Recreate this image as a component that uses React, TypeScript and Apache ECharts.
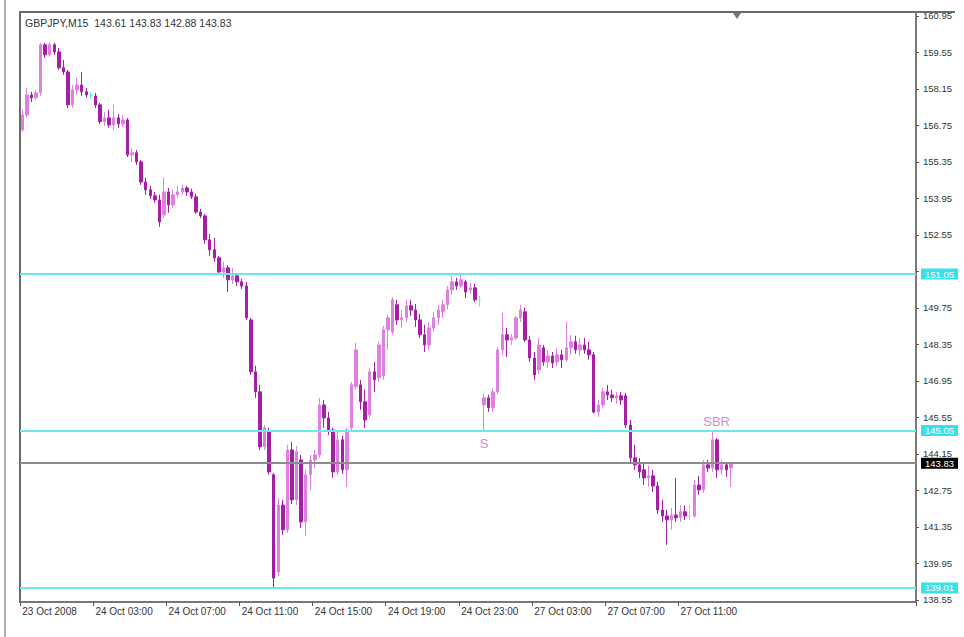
import React, { useEffect, useRef } from 'react';
import * as echarts from 'echarts';

const symbolName = 'GBPJPY,M15';

const opens = [
  156.58, 157.15, 157.92, 157.81, 158.00, 159.84, 159.46, 159.84, 159.57, 158.96,
  158.80, 157.54, 158.11, 158.30, 158.04, 157.92, 157.88, 157.54, 156.89, 157.04,
  156.77, 157.04, 156.81, 156.96, 155.62, 155.70, 155.35, 154.58, 154.28, 154.05,
  153.89, 153.32, 154.20, 153.70, 154.09, 154.20, 154.35, 154.20, 154.01, 153.43,
  153.28, 152.36, 151.98, 151.67, 151.13, 151.29, 150.83, 150.98, 150.75, 150.59,
  149.29, 147.30, 146.53, 144.42, 144.99, 143.35, 139.62, 142.19, 141.24, 144.30,
  142.39, 143.92, 141.54, 143.35, 143.92, 144.11, 146.03, 145.53, 145.07, 143.46,
  144.69, 143.54, 145.15, 146.72, 146.80, 146.15, 145.65, 147.30, 147.07, 147.14,
  148.91, 148.83, 149.87, 149.29, 149.37, 149.83, 149.67, 149.29, 148.72, 148.33,
  148.98, 149.37, 149.60, 149.87, 150.44, 150.75, 150.59, 150.75, 150.44, 150.52,
  150.06, 146.03, 146.30, 145.92, 146.53, 148.14, 148.72, 148.52, 148.60, 149.37,
  149.60, 148.52, 147.83, 147.37, 148.22, 147.68, 147.91, 147.68, 147.95, 147.76,
  148.22, 148.45, 148.14, 148.33, 148.14, 147.95, 145.76, 146.03, 146.53, 146.41,
  146.30, 146.38, 146.38, 145.26, 144.00, 143.73, 143.54, 143.23, 143.31, 142.92,
  142.00, 141.77, 141.62, 141.81, 141.70, 141.93, 141.77, 141.77, 142.96, 142.77,
  143.73, 143.61, 144.69, 143.54, 143.73, 143.61,
];

const closes = [
  157.15, 157.92, 157.81, 158.00, 159.84, 159.46, 159.84, 159.57, 158.96, 158.80,
  157.54, 158.11, 158.30, 158.04, 157.92, 157.92, 157.54, 156.89, 157.04, 156.77,
  157.04, 156.81, 156.96, 155.62, 155.70, 155.35, 154.58, 154.28, 154.05, 153.89,
  153.05, 154.20, 153.70, 154.09, 154.20, 154.35, 154.20, 154.01, 153.43, 153.28,
  152.36, 151.98, 151.67, 151.13, 151.29, 150.83, 150.98, 150.75, 150.59, 149.37,
  147.30, 146.53, 144.42, 145.15, 143.46, 139.39, 142.19, 141.24, 144.30, 142.39,
  144.23, 141.54, 143.35, 143.92, 144.11, 146.03, 145.53, 145.07, 143.46, 144.69,
  143.54, 145.07, 146.80, 148.14, 146.15, 145.45, 147.30, 146.99, 148.33, 148.91,
  149.37, 150.06, 149.29, 149.37, 149.83, 149.67, 149.29, 148.72, 148.33, 148.98,
  149.37, 149.67, 149.87, 150.44, 150.75, 150.59, 150.83, 150.36, 150.52, 150.06,
  150.06, 146.30, 145.92, 146.53, 148.14, 148.72, 148.52, 148.60, 149.37, 149.67,
  148.52, 147.83, 147.18, 148.33, 147.68, 147.91, 147.64, 147.95, 147.76, 148.22,
  148.45, 148.14, 148.33, 148.14, 147.95, 145.76, 146.03, 146.53, 146.41, 146.30,
  146.38, 146.22, 145.26, 144.00, 143.73, 143.46, 143.23, 143.31, 142.92, 142.00,
  141.77, 141.62, 141.81, 141.70, 141.93, 141.77, 141.77, 142.96, 142.77, 143.73,
  143.61, 144.69, 143.54, 143.73, 143.54, 143.83,
];

const lows = [
  156.50, 157.04, 157.65, 157.73, 157.88, 159.34, 159.38, 159.46, 158.88, 158.69,
  157.42, 157.42, 157.92, 157.88, 157.81, 157.77, 157.42, 156.81, 156.73, 156.66,
  156.58, 156.66, 156.69, 155.54, 155.35, 155.24, 154.47, 154.09, 153.93, 153.78,
  152.86, 153.20, 153.40, 153.59, 153.97, 154.09, 154.05, 153.93, 153.36, 153.20,
  152.21, 151.75, 151.52, 151.02, 150.90, 150.36, 150.67, 150.59, 150.48, 149.29,
  147.18, 146.30, 144.30, 144.30, 143.35, 139.01, 139.47, 141.04, 141.12, 142.23,
  142.19, 141.31, 141.01, 142.77, 143.61, 144.00, 145.15, 144.88, 143.23, 143.35,
  143.38, 142.88, 144.99, 146.61, 145.84, 145.15, 145.53, 146.53, 146.91, 146.99,
  148.14, 148.72, 149.10, 148.98, 149.21, 149.44, 149.02, 148.60, 148.06, 148.14,
  148.83, 149.10, 149.37, 149.71, 150.25, 150.44, 150.52, 150.13, 150.29, 149.98,
  149.79, 145.07, 145.76, 145.76, 146.45, 147.95, 147.87, 148.33, 148.52, 149.21,
  148.45, 147.68, 146.99, 147.22, 147.53, 147.45, 147.45, 147.53, 147.45, 147.68,
  147.95, 147.99, 147.91, 147.99, 147.76, 145.69, 145.57, 145.92, 146.22, 146.15,
  146.07, 146.03, 145.15, 143.84, 143.54, 143.23, 142.96, 142.88, 142.69, 141.85,
  141.54, 140.66, 141.24, 141.54, 141.54, 141.62, 141.62, 141.70, 142.58, 142.65,
  143.46, 143.46, 143.23, 143.35, 143.27, 142.88,
];

const highs = [
  157.35, 158.19, 158.04, 158.11, 159.92, 159.92, 159.95, 159.92, 159.72, 159.26,
  158.88, 158.30, 158.57, 158.80, 158.19, 158.04, 158.00, 157.61, 157.27, 157.35,
  157.54, 157.19, 157.15, 157.04, 155.89, 155.81, 155.43, 154.74, 154.43, 154.20,
  154.09, 154.74, 154.35, 154.28, 154.43, 154.47, 154.43, 154.32, 154.12, 153.55,
  153.36, 152.59, 152.44, 151.75, 151.52, 151.40, 151.29, 151.06, 150.86, 150.75,
  149.37, 147.53, 146.80, 145.26, 145.15, 143.42, 142.46, 142.39, 144.50, 144.61,
  144.46, 144.11, 143.54, 144.11, 144.30, 146.30, 146.22, 145.76, 145.15, 144.99,
  144.84, 145.15, 146.91, 148.41, 146.99, 146.61, 147.45, 147.68, 148.45, 149.06,
  149.48, 150.17, 150.06, 149.67, 150.06, 150.06, 149.90, 149.52, 149.10, 149.21,
  149.60, 149.87, 150.06, 150.59, 150.98, 150.90, 151.06, 150.83, 150.71, 150.67,
  150.21, 146.49, 146.41, 146.68, 148.25, 149.56, 148.98, 148.75, 149.44, 149.87,
  149.75, 148.68, 148.06, 148.60, 148.33, 148.14, 148.06, 148.22, 148.14, 149.21,
  148.72, 148.68, 148.60, 148.60, 148.45, 148.06, 146.22, 146.68, 146.80, 146.61,
  146.53, 146.53, 146.49, 145.45, 144.50, 144.00, 143.84, 143.69, 143.54, 143.08,
  142.39, 142.00, 142.08, 143.23, 142.19, 142.16, 142.19, 143.15, 143.31, 143.92,
  143.92, 144.99, 144.76, 143.92, 143.84, 143.83,
];

const totalSlots = 196;
const xTickEvery = 16;
const xTickLabels = [
  '23 Oct 2008', '24 Oct 03:00', '24 Oct 07:00', '24 Oct 11:00', '24 Oct 15:00',
  '24 Oct 19:00', '24 Oct 23:00', '27 Oct 03:00', '27 Oct 07:00', '27 Oct 11:00',
];

const yTickValues = [
  138.55, 139.95, 141.35, 142.75, 144.15, 145.55, 146.95, 148.35, 149.75,
  151.15, 152.55, 153.95, 155.35, 156.75, 158.15, 159.55, 160.95,
];
const yHiddenLabels = [151.15];
const yMin = 138.47;
const yMax = 161.1;

const levelLines = [151.05, 145.05, 139.01];
const textMarks = [
  { text: 'S', bar: 101, at: 'low' },
  { text: 'SBR', bar: 151, at: 'high' },
];

const BULL = '#df7fdf';
const BEAR = '#a41ea6';
const CYAN = '#6fe6ee';
const CYAN_LABEL = '#38e0ea';
const FONT = 'Liberation Sans, Arial, sans-serif';

export default function App() {
  const ref = useRef<HTMLDivElement>(null);

  useEffect(() => {
    if (!ref.current) return;
    const chart = echarts.init(ref.current, undefined, { renderer: 'svg' });

    const categories = Array.from({ length: totalSlots }, (_, i) => String(i));
    const last = opens.length - 1;
    const lastPrice = closes[last];
    const title = `${symbolName}  ${opens[last].toFixed(2)} ${highs[last].toFixed(2)} ${lows[last].toFixed(2)} ${closes[last].toFixed(2)}`;

    const candleData = opens.map((o, i) => {
      const v = [o, closes[i], lows[i], highs[i]];
      if (o === closes[i]) {
        return {
          value: v,
          itemStyle: { color: CYAN, color0: CYAN, borderColor: CYAN, borderColor0: CYAN, borderColorDoji: CYAN },
        };
      }
      return v;
    });

    const showTick = (i: number) => i % xTickEvery === 0 && i / xTickEvery < xTickLabels.length;

    const markLineData: any[] = levelLines.map((v) => ({
      yAxis: v,
      lineStyle: { color: CYAN, width: 2, type: 'solid' },
      label: { backgroundColor: CYAN_LABEL },
    }));
    markLineData.push({
      yAxis: lastPrice,
      lineStyle: { color: '#8c8c8c', width: 2, type: 'solid' },
      label: { backgroundColor: '#000000', offset: [0, 1] },
    });

    const markPointData = textMarks.map((m) => ({
      coord: [String(m.bar), m.at === 'low' ? lows[m.bar] : highs[m.bar]],
      label: {
        formatter: m.text,
        offset: m.at === 'low' ? [0, 14] : [4, -11],
      },
    }));

    chart.setOption({
      animation: false,
      backgroundColor: '#ffffff',
      textStyle: { fontFamily: FONT },
      grid: {
        left: 20,
        right: 48,
        top: 12,
        bottom: 35,
        show: true,
        borderColor: '#6a6a6a',
        borderWidth: 2,
        backgroundColor: '#ffffff',
      },
      xAxis: {
        type: 'category',
        data: categories,
        boundaryGap: true,
        axisLine: { show: true, lineStyle: { color: '#777777', width: 2 } },
        axisTick: { show: true, interval: (i: number) => showTick(i), length: 4, lineStyle: { color: '#555555' } },
        axisLabel: {
          interval: (i: number) => showTick(i),
          formatter: (_v: string, i: number) => xTickLabels[i / xTickEvery] ?? '',
          align: 'left',
          fontSize: 10,
          color: '#333333',
          margin: 4,
          fontFamily: FONT,
        },
        splitLine: { show: false },
      },
      yAxis: {
        type: 'value',
        position: 'right',
        min: yMin,
        max: yMax,
        axisLine: { show: true, lineStyle: { color: '#7a7a7a', width: 2 } },
        axisTick: { show: true, customValues: yTickValues, length: 3, lineStyle: { color: '#555555' } },
        axisLabel: {
          customValues: yTickValues.filter((v) => !yHiddenLabels.includes(v)),
          formatter: (v: number) => v.toFixed(2),
          fontSize: 9.5,
          lineHeight: 9,
          color: '#333333',
          margin: 7,
          fontFamily: FONT,
        },
        splitLine: { show: false },
      },
      series: [
        {
          type: 'candlestick',
          data: candleData,
          barWidth: 3,
          itemStyle: {
            color: BULL,
            color0: BEAR,
            borderColor: BULL,
            borderColor0: BEAR,
            borderWidth: 1,
          },
          markLine: {
            silent: true,
            symbol: 'none',
            precision: 2,
            label: {
              show: true,
              position: 'end',
              distance: 5,
              formatter: (p: any) => Number(p.value).toFixed(2),
              color: '#ffffff',
              fontSize: 9.5,
              lineHeight: 10,
              padding: [1, 4, 0, 4],
              fontFamily: FONT,
            },
            data: markLineData,
          },
          markPoint: {
            silent: true,
            symbol: 'circle',
            symbolSize: 1,
            itemStyle: { color: 'rgba(0,0,0,0)' },
            label: {
              show: true,
              position: 'inside',
              color: '#d68ad6',
              fontSize: 13,
              fontFamily: FONT,
            },
            data: markPointData,
          },
        },
      ],
      graphic: [
        {
          type: 'text',
          left: 25,
          top: 17,
          style: { text: title, fill: '#333333', fontSize: 10.5, fontFamily: FONT },
        },
        {
          type: 'line',
          shape: { x1: 5, y1: 0, x2: 5, y2: 637 },
          style: { stroke: '#b0b0b0', lineWidth: 2 },
        },
        {
          type: 'line',
          shape: { x1: 916, y1: 12, x2: 955, y2: 12 },
          style: { stroke: '#6a6a6a', lineWidth: 2 },
        },
        {
          type: 'polygon',
          shape: { points: [[733, 13], [741, 13], [737, 19]] },
          style: { fill: '#777777' },
        },
      ],
    });

    return () => chart.dispose();
  }, []);

  return (
    <div
      ref={ref}
      style={{ position: 'absolute', left: 0, top: 0, width: 964, height: 637, background: '#ffffff' }}
    />
  );
}
